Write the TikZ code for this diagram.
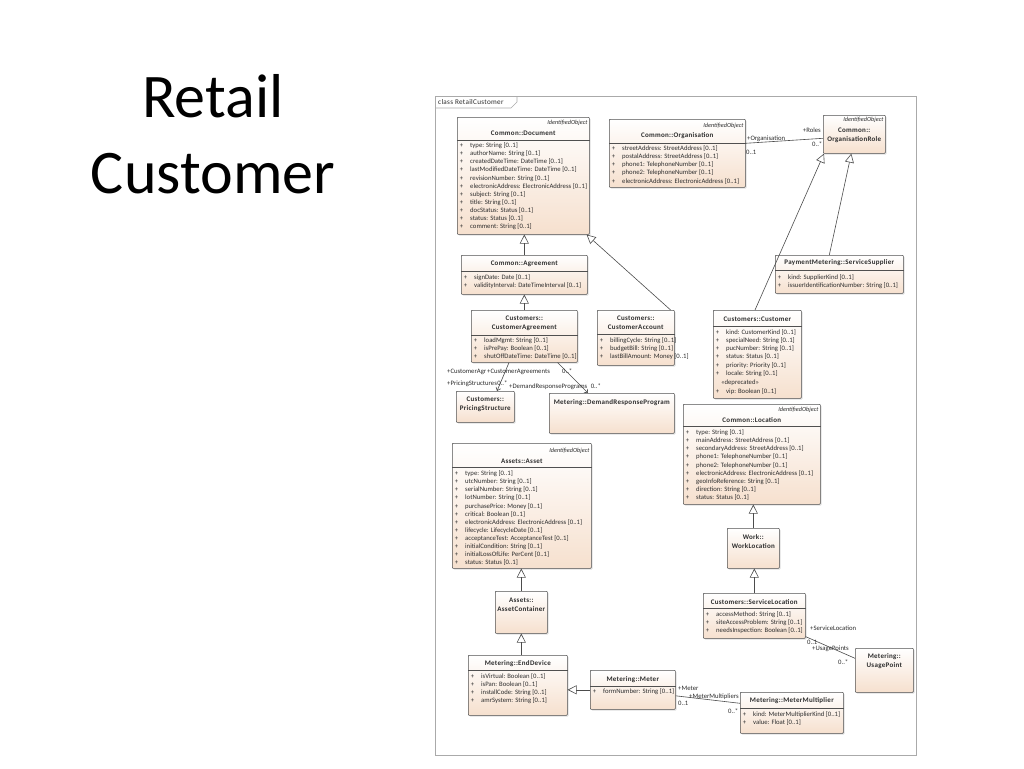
\documentclass[tikz,border=0pt]{standalone}
\usepackage{fontspec}
\setmainfont{Carlito}
\newfontfamily\clsfont{Carlito}[LetterSpace=4]
\usetikzlibrary{arrows.meta, shadows, positioning}

\definecolor{boxpeach}{RGB}{246,224,206}
\definecolor{boxline}{RGB}{80,80,80}
\definecolor{framegray}{RGB}{170,170,170}
\definecolor{txt}{RGB}{45,45,45}

% attribute lines: node, offset of first line, list
\newcommand\attrs[3]{%
  \foreach \att [count=\i] in {#3} {
    \pgfmathsetlengthmacro\dy{#2pt+8.1pt*(\i-1)}
    \node[plus] (#1-p\i) at ([xshift=4.5pt, yshift=-\dy]#1.north west) {+};
    \node[attr] (#1-a\i) at ([xshift=13pt, yshift=-\dy]#1.north west) {\att};
  }}

\begin{document}
\begin{tikzpicture}[x=1pt, y=-1pt,
    classbox/.style={draw=boxline, line width=0.6pt, rounded corners=0.8pt, top color=white, bottom color=boxpeach,
      drop shadow={shadow xshift=1.2pt, shadow yshift=-1.2pt, fill=black!25}, anchor=north west, inner sep=0pt},
    cname/.style={font=\clsfont\bfseries\fontsize{7}{9}\selectfont, text=txt, inner sep=0pt, align=center},
    stereo/.style={font=\itshape\fontsize{6.2}{7}\selectfont, text=txt, inner sep=0pt, anchor=east},
    attr/.style={font=\fontsize{6.7}{8}\selectfont, text=txt, inner sep=0pt, anchor=west, text height=4.6pt, text depth=1.3pt},
    plus/.style={attr, anchor=center},
    endlabel/.style={attr},
    divider/.style={draw=boxline, line width=0.5pt},
    conn/.style={draw=black!70, line width=0.6pt},
    gen/.style={conn, -{Triangle[open, length=9pt, width=9pt]}},
    nav/.style={conn, -{Straight Barb[length=3pt, width=5pt]}}]

  \path[use as bounding box, fill=white] (0,0) rectangle (1024,768);

  \node[font=\fontsize{62}{70}\selectfont, anchor=base] (title1) at (213,117) {Retail};
  \node[font=\fontsize{62}{70}\selectfont, anchor=base] (title2) at (213,193) {Customer};

  % diagram frame
  \draw[framegray, line width=0.6pt] (435,96) rectangle (916,755);
  \draw[framegray, line width=0.6pt] (435,108) -- (511,108) -- (517,102) -- (517,96);
  \node[font=\clsfont\fontsize{7.2}{8}\selectfont, text=txt, anchor=west, inner sep=0pt] (tab) at (438,102) {class RetailCustomer};

  % Common::Document
  \node[classbox, minimum width=132pt, minimum height=117pt] (doc) at (457,117) {};
  \node[stereo] (doc-s) at ([xshift=-2pt, yshift=-6pt]doc.north east) {IdentifiedObject};
  \node[cname] (doc-t) at ([yshift=-16pt]doc.north) {Common::Document};
  \draw[divider] ([yshift=-23pt]doc.north west) -- ([yshift=-23pt]doc.north east);
  \attrs{doc}{29}{type: String [0..1], authorName: String [0..1], createdDateTime: DateTime [0..1],
    lastModifiedDateTime: DateTime [0..1], revisionNumber: String [0..1],
    electronicAddress: ElectronicAddress [0..1], subject: String [0..1], title: String [0..1],
    docStatus: Status [0..1], status: Status [0..1], comment: String [0..1]}

  % Common::Organisation
  \node[classbox, minimum width=136pt, minimum height=68pt] (org) at (609,119) {};
  \node[stereo] (org-s) at ([xshift=-2pt, yshift=-7pt]org.north east) {IdentifiedObject};
  \node[cname] (org-t) at ([yshift=-17pt]org.north) {Common::Organisation};
  \draw[divider] ([yshift=-24pt]org.north west) -- ([yshift=-24pt]org.north east);
  \attrs{org}{30}{streetAddress: StreetAddress [0..1], postalAddress: StreetAddress [0..1],
    phone1: TelephoneNumber [0..1], phone2: TelephoneNumber [0..1],
    electronicAddress: ElectronicAddress [0..1]}

  % Common::OrganisationRole
  \node[classbox, minimum width=62pt, minimum height=38pt] (role) at (823,115) {};
  \node[stereo] (role-s) at ([xshift=-2pt, yshift=-5pt]role.north east) {IdentifiedObject};
  \node[cname] (role-t) at ([yshift=-20pt]role.north) {Common::\\OrganisationRole};

  % Common::Agreement
  \node[classbox, minimum width=126pt, minimum height=39pt] (agr) at (461,255) {};
  \node[cname] (agr-t) at ([yshift=-9pt]agr.north) {Common::Agreement};
  \draw[divider] ([yshift=-16pt]agr.north west) -- ([yshift=-16pt]agr.north east);
  \attrs{agr}{23}{signDate: Date [0..1], validityInterval: DateTimeInterval [0..1]}

  % PaymentMetering::ServiceSupplier
  \node[classbox, minimum width=128pt, minimum height=38pt] (sup) at (775,255) {};
  \node[cname] (sup-t) at ([yshift=-8pt]sup.north) {PaymentMetering::ServiceSupplier};
  \draw[divider] ([yshift=-15pt]sup.north west) -- ([yshift=-15pt]sup.north east);
  \attrs{sup}{23}{kind: SupplierKind [0..1], issuerIdentificationNumber: String [0..1]}

  % Customers::CustomerAgreement
  \node[classbox, minimum width=106pt, minimum height=52pt] (cag) at (471,310) {};
  \node[cname] (cag-t) at ([yshift=-13.5pt]cag.north) {Customers::\\CustomerAgreement};
  \draw[divider] ([yshift=-25pt]cag.north west) -- ([yshift=-25pt]cag.north east);
  \attrs{cag}{31}{loadMgmt: String [0..1], isPrePay: Boolean [0..1], shutOffDateTime: DateTime [0..1]}

  % Customers::CustomerAccount
  \node[classbox, minimum width=77pt, minimum height=55pt] (cac) at (597,310) {};
  \node[cname] (cac-t) at ([yshift=-13pt]cac.north) {Customers::\\CustomerAccount};
  \draw[divider] ([yshift=-24pt]cac.north west) -- ([yshift=-24pt]cac.north east);
  \attrs{cac}{31}{billingCycle: String [0..1], budgetBill: String [0..1], lastBillAmount: Money [0..1]}

  % Customers::Customer
  \node[classbox, minimum width=88pt, minimum height=88pt] (cus) at (713,310) {};
  \node[cname] (cus-t) at ([yshift=-9pt]cus.north) {Customers::Customer};
  \draw[divider] ([yshift=-16pt]cus.north west) -- ([yshift=-16pt]cus.north east);
  \attrs{cus}{23}{kind: CustomerKind [0..1], specialNeed: String [0..1], pucNumber: String [0..1],
    status: Status [0..1], priority: Priority [0..1], locale: String [0..1]}
  \node[attr] (cus-dep) at ([xshift=8pt, yshift=-73pt]cus.north west) {«deprecated»};
  \node[plus] (cus-p7) at ([xshift=4.5pt, yshift=-82pt]cus.north west) {+};
  \node[attr] (cus-a7) at ([xshift=13pt, yshift=-82pt]cus.north west) {vip: Boolean [0..1]};

  % Customers::PricingStructure
  \node[classbox, minimum width=58pt, minimum height=31pt] (prs) at (456,391) {};
  \node[cname] (prs-t) at ([yshift=-13pt]prs.north) {Customers::\\PricingStructure};

  % Metering::DemandResponseProgram
  \node[classbox, minimum width=125pt, minimum height=40pt] (drp) at (549,393) {};
  \node[cname] (drp-t) at ([yshift=-10pt]drp.north) {Metering::DemandResponseProgram};

  % Common::Location
  \node[classbox, minimum width=137pt, minimum height=100pt] (loc) at (683,404) {};
  \node[stereo] (loc-s) at ([xshift=-2pt, yshift=-6pt]loc.north east) {IdentifiedObject};
  \node[cname] (loc-t) at ([yshift=-16pt]loc.north) {Common::Location};
  \draw[divider] ([yshift=-22pt]loc.north west) -- ([yshift=-22pt]loc.north east);
  \attrs{loc}{29}{type: String [0..1], mainAddress: StreetAddress [0..1],
    secondaryAddress: StreetAddress [0..1], phone1: TelephoneNumber [0..1],
    phone2: TelephoneNumber [0..1], electronicAddress: ElectronicAddress [0..1],
    geoInfoReference: String [0..1], direction: String [0..1], status: Status [0..1]}

  % Assets::Asset
  \node[classbox, minimum width=139pt, minimum height=125pt] (ast) at (452,443) {};
  \node[stereo] (ast-s) at ([xshift=-2pt, yshift=-8pt]ast.north east) {IdentifiedObject};
  \node[cname] (ast-t) at ([yshift=-18pt]ast.north) {Assets::Asset};
  \draw[divider] ([yshift=-24pt]ast.north west) -- ([yshift=-24pt]ast.north east);
  \attrs{ast}{31}{type: String [0..1], utcNumber: String [0..1], serialNumber: String [0..1],
    lotNumber: String [0..1], purchasePrice: Money [0..1], critical: Boolean [0..1],
    electronicAddress: ElectronicAddress [0..1], lifecycle: LifecycleDate [0..1],
    acceptanceTest: AcceptanceTest [0..1], initialCondition: String [0..1],
    initialLossOfLife: PerCent [0..1], status: Status [0..1]}

  % Assets::AssetContainer
  \node[classbox, minimum width=52pt, minimum height=42pt] (acn) at (495,591) {};
  \node[cname] (acn-t) at ([yshift=-13.5pt]acn.north) {Assets::\\AssetContainer};

  % Metering::EndDevice
  \node[classbox, minimum width=99pt, minimum height=60pt] (end) at (468,655) {};
  \node[cname] (end-t) at ([yshift=-9pt]end.north) {Metering::EndDevice};
  \draw[divider] ([yshift=-15pt]end.north west) -- ([yshift=-15pt]end.north east);
  \attrs{end}{22}{isVirtual: Boolean [0..1], isPan: Boolean [0..1], installCode: String [0..1],
    amrSystem: String [0..1]}

  % Metering::Meter
  \node[classbox, minimum width=85pt, minimum height=39pt] (mtr) at (590,670) {};
  \node[cname] (mtr-t) at ([yshift=-10pt]mtr.north) {Metering::Meter};
  \draw[divider] ([yshift=-16pt]mtr.north west) -- ([yshift=-16pt]mtr.north east);
  \attrs{mtr}{22}{formNumber: String [0..1]}

  % Metering::MeterMultiplier
  \node[classbox, minimum width=103pt, minimum height=41pt] (mmu) at (740,692) {};
  \node[cname] (mmu-t) at ([yshift=-9pt]mmu.north) {Metering::MeterMultiplier};
  \draw[divider] ([yshift=-16pt]mmu.north west) -- ([yshift=-16pt]mmu.north east);
  \attrs{mmu}{23}{kind: MeterMultiplierKind [0..1], value: Float [0..1]}

  % Work::WorkLocation
  \node[classbox, minimum width=52pt, minimum height=40pt] (wlo) at (727,528) {};
  \node[cname] (wlo-t) at ([yshift=-13.5pt]wlo.north) {Work::\\WorkLocation};

  % Customers::ServiceLocation
  \node[classbox, minimum width=102pt, minimum height=45pt] (slo) at (703,593) {};
  \node[cname] (slo-t) at ([yshift=-9pt]slo.north) {Customers::ServiceLocation};
  \draw[divider] ([yshift=-15pt]slo.north west) -- ([yshift=-15pt]slo.north east);
  \attrs{slo}{22}{accessMethod: String [0..1], siteAccessProblem: String [0..1],
    needsInspection: Boolean [0..1]}

  % Metering::UsagePoint
  \node[classbox, minimum width=58pt, minimum height=44pt] (upt) at (855,648) {};
  \node[cname] (upt-t) at ([yshift=-13pt]upt.north) {Metering::\\UsagePoint};

  % generalisations
  \draw[gen] (agr.north) -- (agr.north |- doc.south);
  \draw[gen] (cag.north) -- (cag.north |- agr.south);
  \draw[gen] ([xshift=-4pt]cac.north east) -- ([xshift=-3pt]doc.south east);
  \draw[gen] ([xshift=42pt]cus.north west) -- ([xshift=1pt]role.south west);
  \draw[gen] ([xshift=-10pt]sup.north) -- ([xshift=-3pt]role.south);
  \draw[gen] (wlo.north) -- (wlo.north |- loc.south);
  \draw[gen] (slo.north) -- (slo.north |- wlo.south);
  \draw[gen] (acn.north) -- (acn.north |- ast.south);
  \draw[gen] (acn.south |- end.north) -- (acn.south);
  \draw[gen] (mtr.west) -- (mtr.west -| end.east);

  % associations
  \draw[conn] ([yshift=10pt]org.east) -- ([yshift=-4pt]role.west);
  \draw[nav] ([xshift=38pt]cag.south west) -- ([xshift=41pt]prs.north west);
  \draw[nav] ([xshift=-20pt]cag.south east) -- ([xshift=39pt]drp.north west);
  \draw[conn] ([yshift=-6pt]mtr.east) -- ([yshift=9.5pt]mmu.west);
  \draw[conn] ([yshift=2pt]slo.south east) -- ([yshift=12pt]upt.west);

  % association end labels
  \node[endlabel] (r-org) at (747,139) {+Organisation};
  \node[endlabel] (m-org) at (746,153) {0..1};
  \node[endlabel, anchor=east] (r-role) at (821,131) {+Roles};
  \node[endlabel] (m-role) at (812,145) {0..*};
  \node[endlabel] (r-cag1) at (447,372) {+CustomerAgr};
  \node[endlabel] (r-cag2) at (487,372) {+CustomerAgreements};
  \node[endlabel] (m-cag) at (562,372) {0..*};
  \node[endlabel] (r-prs) at (447,384) {+PricingStructures};
  \node[endlabel, right=0pt of r-prs] (m-prs) {0..*};
  \node[endlabel] (r-drp) at (509,387) {+DemandResponsePrograms};
  \node[endlabel, right=3pt of r-drp] (m-drp) {0..*};
  \node[endlabel] (r-mtr) at (678,689) {+Meter};
  \node[endlabel] (r-mmu) at (689,697) {+MeterMultipliers};
  \node[endlabel] (m-mtr) at (678,704) {0..1};
  \node[endlabel] (m-mmu) at (728,712) {0..*};
  \node[endlabel] (r-slo) at (810,629) {+ServiceLocation};
  \node[endlabel] (m-slo) at (807,643) {0..1};
  \node[endlabel] (r-upt) at (812,649) {+UsagePoints};
  \node[endlabel] (m-upt) at (838,663) {0..*};

\end{tikzpicture}
\end{document}
